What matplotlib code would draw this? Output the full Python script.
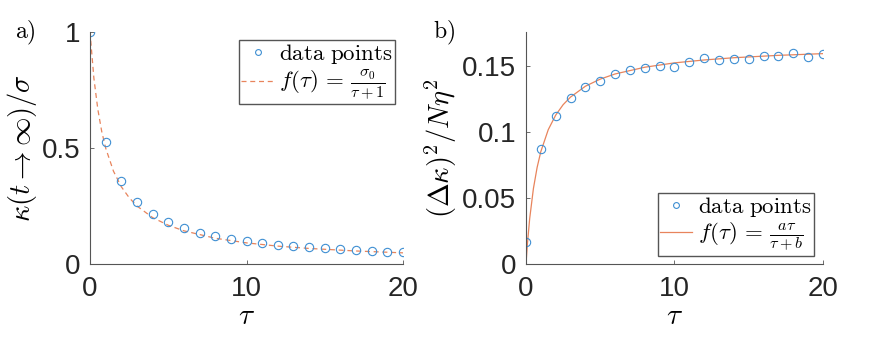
import matplotlib
matplotlib.use("Agg")
import matplotlib.pyplot as plt

plt.rcParams['mathtext.fontset'] = 'cm'
plt.rcParams['font.family'] = ['Liberation Sans', 'DejaVu Sans']

# panel a) data
tau_a = list(range(21))
kappa_a = [1.0, 0.526, 0.356, 0.269, 0.216, 0.181, 0.154, 0.135, 0.119, 0.108, 0.099,
           0.091, 0.082, 0.078, 0.073, 0.069, 0.063, 0.060, 0.056, 0.052, 0.050]
# fit curve a)
fit_tau_a = [0, 0.25, 0.5, 0.75, 1, 1.5, 2, 2.5, 3, 4, 5, 6, 8, 10, 12, 14, 17, 20]
fit_a = [1.0, 0.80, 0.667, 0.571, 0.50, 0.40, 0.333, 0.286, 0.25, 0.20, 0.167, 0.143,
         0.111, 0.091, 0.077, 0.067, 0.056, 0.048]

# panel b) data
tau_b = list(range(21))
var_b = [0.0164, 0.0875, 0.1119, 0.1261, 0.1344, 0.1387, 0.1437, 0.1472, 0.1482, 0.1497,
         0.1492, 0.1530, 0.1558, 0.1545, 0.1553, 0.1555, 0.1573, 0.1578, 0.1596, 0.1571, 0.1588]
# fit curve b)
fit_tau_b = [0, 0.1, 0.25, 0.5, 0.75, 1, 1.5, 2, 2.5, 3, 4, 5, 6, 8, 10, 12, 14, 17, 20]
fit_b = [0.0, 0.0158, 0.0345, 0.0572, 0.0732, 0.0852, 0.1018, 0.1128, 0.1207, 0.1265,
         0.1347, 0.1401, 0.1440, 0.1491, 0.1524, 0.1546, 0.1563, 0.1581, 0.1594]

blue = '#3f8fd2'
orange = '#e8845c'
axcol = '#555555'

fig = plt.figure(figsize=(8.72, 3.44), dpi=100)
ax1 = fig.add_axes([0.1032, 0.2326, 0.359, 0.6744])
ax2 = fig.add_axes([0.6032, 0.2326, 0.3406, 0.6744])


def style(ax):
    for s in ['top', 'right']:
        ax.spines[s].set_visible(False)
    for s in ['left', 'bottom']:
        ax.spines[s].set_color(axcol)
        ax.spines[s].set_linewidth(0.8)
    ax.tick_params(direction='in', length=3, width=0.6, color=axcol,
                   labelsize=20, labelcolor='#262626')
    ax.tick_params(axis='x', pad=9)
    ax.tick_params(axis='y', pad=7)
    ax.set_xlim(0, 20)
    ax.set_xticks([0, 10, 20])
    ax.set_xlabel(r'$\tau$', fontsize=21, labelpad=0)


leg_kw = dict(fontsize=16.5, fancybox=False, edgecolor='#555555', framealpha=1,
              handlelength=1.4, handletextpad=0.25, borderpad=0.1, labelspacing=0.05,
              borderaxespad=0, markerscale=0.7)

ax1.plot(fit_tau_a, fit_a, '--', color=orange, lw=0.9, dashes=(4, 3),
         label=r'$f(\tau)\,=\,\frac{\sigma_0}{\tau+1}$')
ax1.plot(tau_a, kappa_a, 'o', mfc='none', mec=blue, mew=0.8, ms=6,
         label=r'$\mathrm{data\ points}$')
style(ax1)
ax1.set_ylim(0, 1)
ax1.set_yticks([0, 0.5, 1])
ax1.set_yticklabels(['0', '0.5', '1'])
ax1.set_ylabel(r'$\kappa(t\rightarrow\infty)/\sigma$', fontsize=20.5, labelpad=2)
h, l = ax1.get_legend_handles_labels()
ax1.legend(h[::-1], l[::-1], loc='upper right', bbox_to_anchor=(0.975, 0.965), **leg_kw)

ax2.plot(fit_tau_b, fit_b, '-', color=orange, lw=0.9,
         label=r'$f(\tau)\,=\,\frac{a\tau}{\tau+b}$')
ax2.plot(tau_b, var_b, 'o', mfc='none', mec=blue, mew=0.8, ms=6,
         label=r'$\mathrm{data\ points}$')
style(ax2)
ax2.set_ylim(0, 0.1758)
ax2.set_yticks([0, 0.05, 0.1, 0.15])
ax2.set_yticklabels(['0', '0.05', '0.1', '0.15'])
ax2.set_ylabel(r'$(\Delta\kappa)^2/N\eta^2$', fontsize=20.5, labelpad=2)
h, l = ax2.get_legend_handles_labels()
ax2.legend(h[::-1], l[::-1], loc='lower right', bbox_to_anchor=(0.97, 0.035), **leg_kw)

fig.text(0.017, 0.905, r'$\mathrm{a)}$', fontsize=17, va='center')
fig.text(0.497, 0.905, r'$\mathrm{b)}$', fontsize=17, va='center')

fig.savefig('out.png', dpi=100)
